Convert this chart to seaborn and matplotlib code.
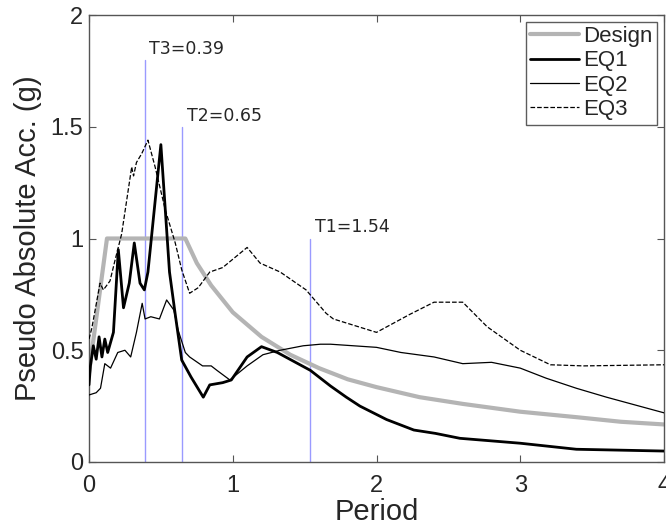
import numpy as np
import pandas as pd
import seaborn as sns
import matplotlib
matplotlib.use('Agg')
import matplotlib.pyplot as plt

sns.set_style("ticks")
plt.rcParams['font.family'] = ['Liberation Sans', 'DejaVu Sans']

# design spectrum
design_T = [0.0, 0.125, 0.67, 0.75, 0.85, 1.0, 1.2, 1.4, 1.6, 1.8, 2.0, 2.3, 2.6, 3.0, 3.4, 3.7, 4.0]
design_sa = [0.40, 1.0, 1.0, 0.89, 0.79, 0.67, 0.56, 0.48, 0.42, 0.37, 0.335, 0.29, 0.26, 0.225, 0.20, 0.18, 0.168]

eq1_T = [0.0, 0.01, 0.03, 0.05, 0.07, 0.09, 0.11, 0.13, 0.17, 0.204, 0.24, 0.28, 0.315, 0.355, 0.385, 0.41,
         0.50, 0.56, 0.60, 0.645, 0.71, 0.795, 0.84, 0.93, 0.99, 1.10, 1.20, 1.31, 1.54, 1.68, 1.79, 1.885,
         2.07, 2.26, 2.41, 2.58, 3.0, 3.39, 4.0]
eq1_sa = [0.345, 0.43, 0.52, 0.46, 0.56, 0.47, 0.55, 0.49, 0.58, 0.95, 0.69, 0.80, 0.98, 0.80, 0.77, 0.85,
          1.42, 0.85, 0.66, 0.456, 0.38, 0.29, 0.345, 0.355, 0.367, 0.47, 0.516, 0.49, 0.41, 0.34, 0.29, 0.25,
          0.19, 0.143, 0.128, 0.106, 0.084, 0.057, 0.049]

eq2_T = [0.0, 0.05, 0.08, 0.11, 0.15, 0.2, 0.25, 0.29, 0.33, 0.37, 0.39, 0.43, 0.49, 0.54, 0.59, 0.62,
         0.67, 0.70, 0.79, 0.85, 0.89, 0.98, 1.10, 1.21, 1.33, 1.49, 1.61, 1.68, 2.0, 2.17, 2.40, 2.60,
         2.80, 3.0, 3.18, 3.39, 3.60, 4.0]
eq2_sa = [0.30, 0.31, 0.33, 0.44, 0.42, 0.49, 0.50, 0.47, 0.58, 0.71, 0.64, 0.65, 0.64, 0.725, 0.68, 0.59,
          0.49, 0.47, 0.43, 0.43, 0.41, 0.367, 0.43, 0.48, 0.50, 0.52, 0.527, 0.527, 0.513, 0.49, 0.47, 0.44,
          0.446, 0.42, 0.375, 0.33, 0.29, 0.22]

eq3_T = [0.0, 0.02, 0.077, 0.10, 0.146, 0.18, 0.227, 0.297, 0.31, 0.33, 0.367, 0.41, 0.46, 0.53, 0.60,
         0.645, 0.70, 0.76, 0.84, 0.93, 1.10, 1.19, 1.33, 1.51, 1.65, 1.70, 2.0, 2.23, 2.40, 2.60, 2.77,
         3.0, 3.21, 3.44, 4.0]
eq3_sa = [0.55, 0.60, 0.80, 0.77, 0.81, 0.90, 1.02, 1.32, 1.28, 1.34, 1.38, 1.44, 1.32, 1.13, 0.98,
          0.86, 0.755, 0.78, 0.85, 0.87, 0.96, 0.89, 0.85, 0.77, 0.665, 0.64, 0.58, 0.66, 0.715, 0.715, 0.605,
          0.50, 0.435, 0.43, 0.435]

# modal periods and how high their markers reach
mode_names = ["T1", "T2", "T3"]
mode_T = [1.54, 0.65, 0.39]
mode_top = [1.0, 1.5, 1.8]

fig = plt.figure(figsize=(6.66, 5.25), dpi=100)
ax = fig.add_axes([89 / 666, 63 / 525, 575 / 666, 447 / 525])

for t, top in zip(mode_T, mode_top):
    ax.plot([t, t], [0, top], color='#9a9aff', lw=1.0, zorder=1)
for name, t, top in zip(mode_names, mode_T, mode_top):
    ax.text(t + 0.03, top + 0.05, f"{name}={t:.2f}", fontsize=12.5, family=['DejaVu Sans'],
            va='center', ha='left')

sns.lineplot(x=design_T, y=design_sa, ax=ax, color='#b4b4b4', lw=3, label='Design', zorder=2)
sns.lineplot(x=eq1_T, y=eq1_sa, ax=ax, color='black', lw=2.0, label='EQ1', zorder=3, sort=False)
sns.lineplot(x=eq2_T, y=eq2_sa, ax=ax, color='black', lw=0.9, label='EQ2', zorder=3, sort=False)
sns.lineplot(x=eq3_T, y=eq3_sa, ax=ax, color='black', lw=0.9, ls='--', label='EQ3', zorder=3, sort=False)

ax.set_xlim(0, 4)
ax.set_ylim(0, 2)
ax.set_xticks([0, 1, 2, 3, 4])
ax.set_yticks([0, 0.5, 1, 1.5, 2])
ax.set_xticklabels(['0', '1', '2', '3', '4'])
ax.set_yticklabels(['0', '0.5', '1', '1.5', '2'])
ax.tick_params(direction='in', top=True, right=True, labelsize=17, length=5, color='#555555')
ax.tick_params(axis='x', pad=9)
ax.tick_params(axis='y', pad=4)
for s in ax.spines.values():
    s.set_color('#555555')
    s.set_linewidth(1.0)
ax.set_xlabel('Period', fontsize=21, labelpad=1)
ax.set_ylabel('Pseudo Absolute Acc. (g)', fontsize=21, labelpad=6)

leg = ax.legend(loc='upper right', fontsize=16, frameon=True, fancybox=False, handlelength=2.2,
                handletextpad=0.2, borderpad=0.2, labelspacing=0.15, borderaxespad=0.3)
leg.get_frame().set_edgecolor('#333333')
leg.get_frame().set_linewidth(1.0)

fig.savefig('out.png', dpi=100)
